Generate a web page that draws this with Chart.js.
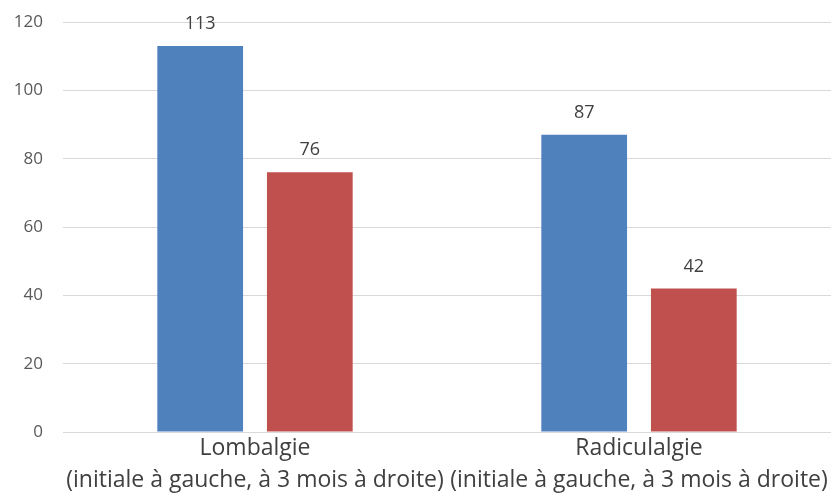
<!DOCTYPE html>
<html>
<head>
<meta charset="utf-8">
<script src="https://cdn.jsdelivr.net/npm/chart.js@4/dist/chart.umd.min.js"></script>
<style>
  html, body { margin: 0; padding: 0; background: #ffffff; }
  #wrap { width: 831px; height: 498px; }
</style>
</head>
<body>
<div id="wrap"><canvas id="c" width="831" height="498"></canvas></div>
<script>
// ---- data ----
const categories = [
  ['Lombalgie', '(initiale à gauche, à 3 mois à droite)'],
  ['Radiculalgie', '(initiale à gauche, à 3 mois à droite)']
];
const seriesNames = ['Initiale', 'À 3 mois'];
const initialValues = [113, 87];
const threeMonthValues = [76, 42];
const yTicks = [0, 20, 40, 60, 80, 100, 120];

const FONT = "'Open Sans', 'Liberation Sans', sans-serif";

const valueLabels = {
  id: 'valueLabels',
  afterDatasetsDraw(chart) {
    const ctx = chart.ctx;
    ctx.save();
    ctx.font = '18px ' + FONT;
    ctx.fillStyle = '#404040';
    ctx.textAlign = 'center';
    ctx.textBaseline = 'alphabetic';
    chart.data.datasets.forEach((ds, di) => {
      const meta = chart.getDatasetMeta(di);
      meta.data.forEach((bar, i) => {
        ctx.fillText(String(ds.data[i]), bar.x, bar.y - 17);
      });
    });
    ctx.restore();
  }
};

new Chart(document.getElementById('c'), {
  type: 'bar',
  data: {
    labels: categories,
    datasets: [
      { label: seriesNames[0], data: initialValues, backgroundColor: '#4F81BD',
        barPercentage: 0.782, categoryPercentage: 0.571 },
      { label: seriesNames[1], data: threeMonthValues, backgroundColor: '#C0504D',
        barPercentage: 0.782, categoryPercentage: 0.571 }
    ]
  },
  options: {
    responsive: false,
    animation: false,
    devicePixelRatio: 1,
    layout: { padding: { top: 22, right: 0, left: 0, bottom: 0 } },
    plugins: {
      legend: { display: false },
      tooltip: { enabled: false },
      title: { display: false }
    },
    scales: {
      x: {
        grid: { display: false, drawTicks: false },
        border: { display: false },
        ticks: {
          padding: 0,
          maxRotation: 0,
          autoSkip: false,
          color: '#404040',
          font: { family: FONT, size: 23, lineHeight: 1.39 }
        },
        afterFit(scale) { scale.height = 66; scale.paddingLeft = 0; scale.paddingRight = 0; }
      },
      y: {
        min: 0,
        max: 120,
        afterBuildTicks(scale) { scale.ticks = yTicks.map(v => ({ value: v })); },
        grid: { color: '#d9d9d9', lineWidth: 1, drawTicks: false },
        border: { display: false },
        ticks: {
          padding: 20,
          color: '#595959',
          font: { family: FONT, size: 17 }
        },
        afterFit(scale) { scale.width = 63; scale.paddingTop = 0; scale.paddingBottom = 0; }
      }
    }
  },
  plugins: [valueLabels]
});
</script>
</body>
</html>
